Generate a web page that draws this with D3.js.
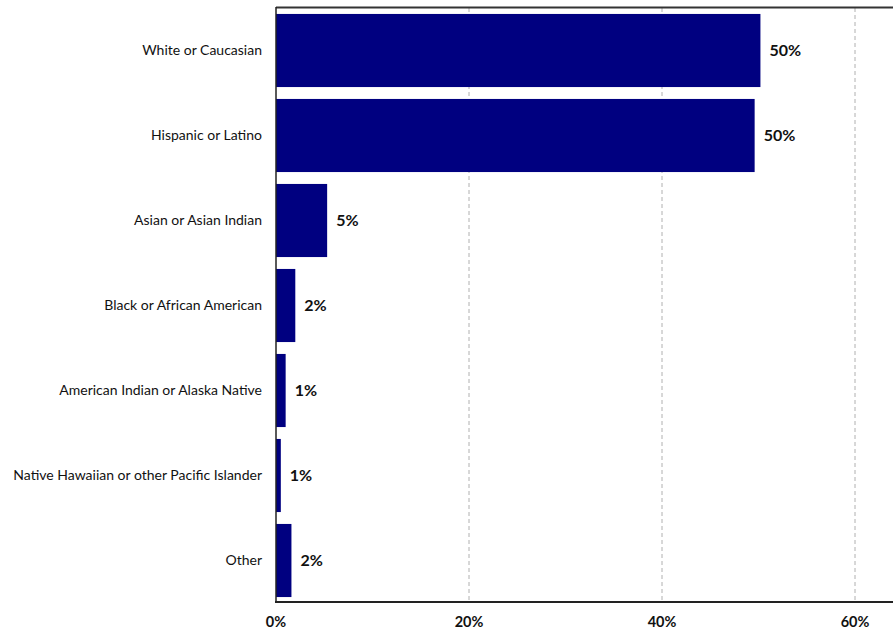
<!DOCTYPE html>
<html><head><meta charset="utf-8">
<script src="https://cdn.jsdelivr.net/npm/d3@7"></script>
<style>body{margin:0;background:#fff;} svg{display:block;}</style>
</head><body>
<svg id="c" width="893" height="629"></svg>
<script>
const categories = ["White or Caucasian","Hispanic or Latino","Asian or Asian Indian","Black or African American","American Indian or Alaska Native","Native Hawaiian or other Pacific Islander","Other"];
const values = [50.2, 49.6, 5.3, 2.0, 1.0, 0.5, 1.6];
const valueLabels = ["50%","50%","5%","2%","1%","1%","2%"];
const ticks = [0, 20, 40, 60];
const tickLabels = ["0%","20%","40%","60%"];

const svg = d3.select("#c");
const font = "Lato, 'Open Sans', sans-serif";
const x = d3.scaleLinear().domain([0, 65]).range([276, 276 + 9.65*65]);
const y = d3.scaleBand().domain(categories).range([8, 603]).paddingInner(0.14).paddingOuter(0.07);

// gridlines
svg.append("g").selectAll("line").data(ticks.slice(1)).join("line")
  .attr("x1", d=>x(d)).attr("x2", d=>x(d)).attr("y1", 8).attr("y2", 602)
  .attr("stroke", "#b0b0b0").attr("stroke-width", 1).attr("stroke-dasharray", "4,3");

// bars
svg.append("g").selectAll("rect").data(values).join("rect")
  .attr("x", x(0)).attr("y", (d,i)=>y(categories[i]))
  .attr("width", d=>x(d)-x(0)).attr("height", y.bandwidth())
  .attr("fill", "#000080");

// frame
svg.append("line").attr("x1", x(0)).attr("x2", 893).attr("y1", 7.5).attr("y2", 7.5).attr("stroke", "#333").attr("stroke-width", 2);
svg.append("line").attr("x1", x(0)).attr("x2", x(0)).attr("y1", 7).attr("y2", 603).attr("stroke", "#222").attr("stroke-width", 1.5);
svg.append("line").attr("x1", x(0)-1).attr("x2", 893).attr("y1", 602).attr("y2", 602).attr("stroke", "#222").attr("stroke-width", 2);

// category labels
svg.append("g").selectAll("text").data(categories).join("text")
  .attr("x", 262).attr("y", d=>y(d)+y.bandwidth()/2).attr("dy", "0.35em")
  .attr("text-anchor", "end").attr("font-family", font).attr("font-size", 14).attr("fill", "#111")
  .text(d=>d);

// value labels
svg.append("g").selectAll("text").data(values).join("text")
  .attr("x", d=>x(d)+9).attr("y", (d,i)=>y(categories[i])+y.bandwidth()/2).attr("dy", "0.35em")
  .attr("font-family", font).attr("font-size", 16).attr("font-weight", "bold").attr("fill", "#111")
  .text((d,i)=>valueLabels[i]);

// x ticks
svg.append("g").selectAll("text").data(ticks).join("text")
  .attr("x", d=>x(d)).attr("y", 622).attr("dy", "0.35em").attr("text-anchor", "middle")
  .attr("font-family", font).attr("font-size", 14.5).attr("font-weight", "bold").attr("fill", "#111")
  .text((d,i)=>tickLabels[i]);
</script>
</body></html>
